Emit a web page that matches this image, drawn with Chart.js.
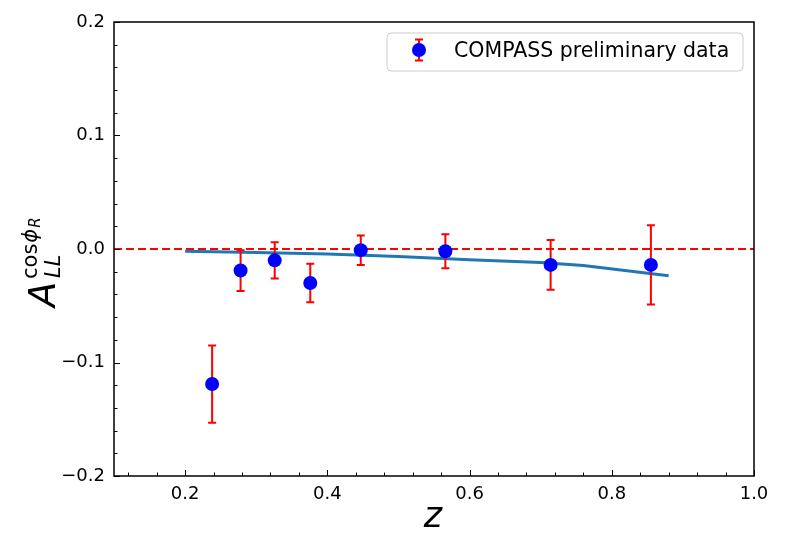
<!DOCTYPE html>
<html>
<head>
<meta charset="utf-8">
<script src="https://cdn.jsdelivr.net/npm/chart.js@4.4.0/dist/chart.umd.min.js"></script>
<style>
html,body{margin:0;padding:0;background:#fff;}
canvas{display:block;}
</style>
</head>
<body>
<canvas id="c" width="786" height="553"></canvas>
<script>
// ---- data ----
const zVals   = [0.238, 0.278, 0.326, 0.376, 0.447, 0.566, 0.714, 0.855];
const aVals   = [-0.119, -0.019, -0.010, -0.030, -0.001, -0.002, -0.014, -0.014];
const errVals = [0.034, 0.018, 0.016, 0.017, 0.013, 0.015, 0.022, 0.035];
const theoryZ = [0.20, 0.30, 0.40, 0.50, 0.60, 0.70, 0.76, 0.88];
const theoryA = [-0.002, -0.003, -0.0045, -0.0065, -0.0095, -0.012, -0.0145, -0.0235];
const xTickVals = [0.2, 0.4, 0.6, 0.8, 1.0];
const yTickVals = [-0.2, -0.1, 0.0, 0.1, 0.2];
const legendLabel = 'COMPASS preliminary data';

const FONT = "'DejaVu Sans', sans-serif";

function fmt(v){
  const s = Math.abs(v).toFixed(1);
  return (v < -1e-9 ? '\u2212' : '') + s;
}

const errorBarPlugin = {
  id: 'errbars',
  beforeDatasetDraw(chart, args){
    if (args.index !== 2) return;
    const ctx = chart.ctx, xs = chart.scales.x, ys = chart.scales.y;
    ctx.save();
    ctx.strokeStyle = '#ff0000';
    ctx.lineWidth = 2;
    zVals.forEach((z, i) => {
      const px = xs.getPixelForValue(z);
      const top = ys.getPixelForValue(aVals[i] + errVals[i]);
      const bot = ys.getPixelForValue(aVals[i] - errVals[i]);
      ctx.beginPath();
      ctx.moveTo(px, top); ctx.lineTo(px, bot);
      ctx.moveTo(px - 4, top); ctx.lineTo(px + 4, top);
      ctx.moveTo(px - 4, bot); ctx.lineTo(px + 4, bot);
      ctx.stroke();
    });
    ctx.restore();
  }
};

const framePlugin = {
  id: 'frame',
  afterDraw(chart){
    const ctx = chart.ctx, a = chart.chartArea, xs = chart.scales.x, ys = chart.scales.y;
    ctx.save();
    ctx.strokeStyle = '#000';
    ctx.lineWidth = 1;
    // major ticks (inward)
    ctx.beginPath();
    xTickVals.forEach(v => {
      const p = Math.round(xs.getPixelForValue(v)) + 0.5;
      ctx.moveTo(p, a.bottom); ctx.lineTo(p, a.bottom - 6);
    });
    yTickVals.forEach(v => {
      const p = Math.round(ys.getPixelForValue(v)) + 0.5;
      ctx.moveTo(a.left, p); ctx.lineTo(a.left + 6, p);
    });
    // minor ticks
    for (let k = 3; k <= 25; k++) {
      if (k % 5 === 0) continue;
      const v = k * 0.04;
      if (v < 0.1 || v > 1.0) continue;
      const p = Math.round(xs.getPixelForValue(v)) + 0.5;
      ctx.moveTo(p, a.bottom); ctx.lineTo(p, a.bottom - 3.5);
    }
    for (let k = -10; k <= 10; k++) {
      if (k % 5 === 0) continue;
      const p = Math.round(ys.getPixelForValue(k * 0.02)) + 0.5;
      ctx.moveTo(a.left, p); ctx.lineTo(a.left + 3.5, p);
    }
    ctx.stroke();
    // box
    ctx.lineWidth = 1.5;
    ctx.strokeRect(a.left, a.top, a.right - a.left, a.bottom - a.top);

    // legend
    const lx = 387, ly = 33, lw = 356, lh = 38, r = 4;
    ctx.beginPath();
    ctx.moveTo(lx + r, ly);
    ctx.arcTo(lx + lw, ly, lx + lw, ly + lh, r);
    ctx.arcTo(lx + lw, ly + lh, lx, ly + lh, r);
    ctx.arcTo(lx, ly + lh, lx, ly, r);
    ctx.arcTo(lx, ly, lx + lw, ly, r);
    ctx.closePath();
    ctx.fillStyle = 'rgba(255,255,255,0.8)';
    ctx.fill();
    ctx.strokeStyle = '#cccccc';
    ctx.lineWidth = 1;
    ctx.stroke();
    ctx.strokeStyle = '#ff0000';
    ctx.lineWidth = 2;
    ctx.beginPath();
    ctx.moveTo(419, 39.5); ctx.lineTo(419, 60.5);
    ctx.moveTo(415, 39.5); ctx.lineTo(423, 39.5);
    ctx.moveTo(415, 60.5); ctx.lineTo(423, 60.5);
    ctx.stroke();
    ctx.fillStyle = '#0000ff';
    ctx.beginPath(); ctx.arc(419, 50, 7, 0, Math.PI * 2); ctx.fill();
    ctx.fillStyle = '#000';
    ctx.font = '20.5px ' + FONT;
    ctx.textBaseline = 'alphabetic';
    ctx.textAlign = 'left';
    ctx.fillText(legendLabel, 454, 57);

    // x label
    ctx.font = 'italic 35px ' + FONT;
    ctx.textAlign = 'center';
    ctx.fillText('z', 433, 527);

    // y label  A_{LL}^{cos phi_R}
    ctx.save();
    ctx.translate(55, 307);
    ctx.rotate(-Math.PI / 2);
    ctx.textAlign = 'left';
    ctx.font = 'italic 37px ' + FONT;
    ctx.fillText('A', 0, 0);
    ctx.font = 'italic 21px ' + FONT;
    ctx.fillText('LL', 29, 5);
    ctx.font = '21px ' + FONT;
    ctx.fillText('cos', 28, -18);
    const cw = ctx.measureText('cos').width;
    ctx.font = 'italic 21px ' + FONT;
    ctx.fillText('\u03d5', 28 + cw + 1, -18);
    const pw = ctx.measureText('\u03d5').width;
    ctx.font = 'italic 15px ' + FONT;
    ctx.fillText('R', 28 + cw + 1 + pw + 1, -15);
    ctx.restore();

    ctx.restore();
  }
};

new Chart(document.getElementById('c'), {
  type: 'scatter',
  data: {
    datasets: [
      {
        type: 'line',
        data: [{x: 0.1, y: 0}, {x: 1.0, y: 0}],
        borderColor: '#ff0000',
        borderWidth: 1.8,
        borderDash: [8, 4],
        pointRadius: 0,
        order: 3
      },
      {
        type: 'line',
        data: theoryZ.map((z, i) => ({x: z, y: theoryA[i]})),
        borderColor: '#1f77b4',
        borderWidth: 3,
        pointRadius: 0,
        tension: 0,
        order: 2
      },
      {
        label: legendLabel,
        data: zVals.map((z, i) => ({x: z, y: aVals[i]})),
        backgroundColor: '#0000ff',
        borderWidth: 0,
        pointRadius: 7,
        order: 1
      }
    ]
  },
  options: {
    responsive: false,
    animation: false,
    events: [],
    layout: { padding: { left: 0, right: 32, top: 22, bottom: 0 } },
    plugins: { legend: { display: false }, tooltip: { enabled: false } },
    scales: {
      x: {
        type: 'linear', min: 0.1, max: 1.0,
        grid: { display: false, drawTicks: false },
        border: { display: false },
        afterBuildTicks(s){ s.ticks = xTickVals.map(v => ({value: v})); },
        afterFit(s){ s.height = 77; },
        ticks: {
          padding: 8, color: '#000', maxRotation: 0, autoSkip: false,
          font: { family: FONT, size: 18 },
          callback: v => fmt(v)
        }
      },
      y: {
        type: 'linear', min: -0.2, max: 0.2,
        grid: { display: false, drawTicks: false },
        border: { display: false },
        afterBuildTicks(s){ s.ticks = yTickVals.map(v => ({value: v})); },
        afterFit(s){ s.width = 114; },
        ticks: {
          padding: 9, color: '#000', autoSkip: false,
          font: { family: FONT, size: 18 },
          callback: v => fmt(v)
        }
      }
    }
  },
  plugins: [errorBarPlugin, framePlugin]
});
</script>
</body>
</html>
